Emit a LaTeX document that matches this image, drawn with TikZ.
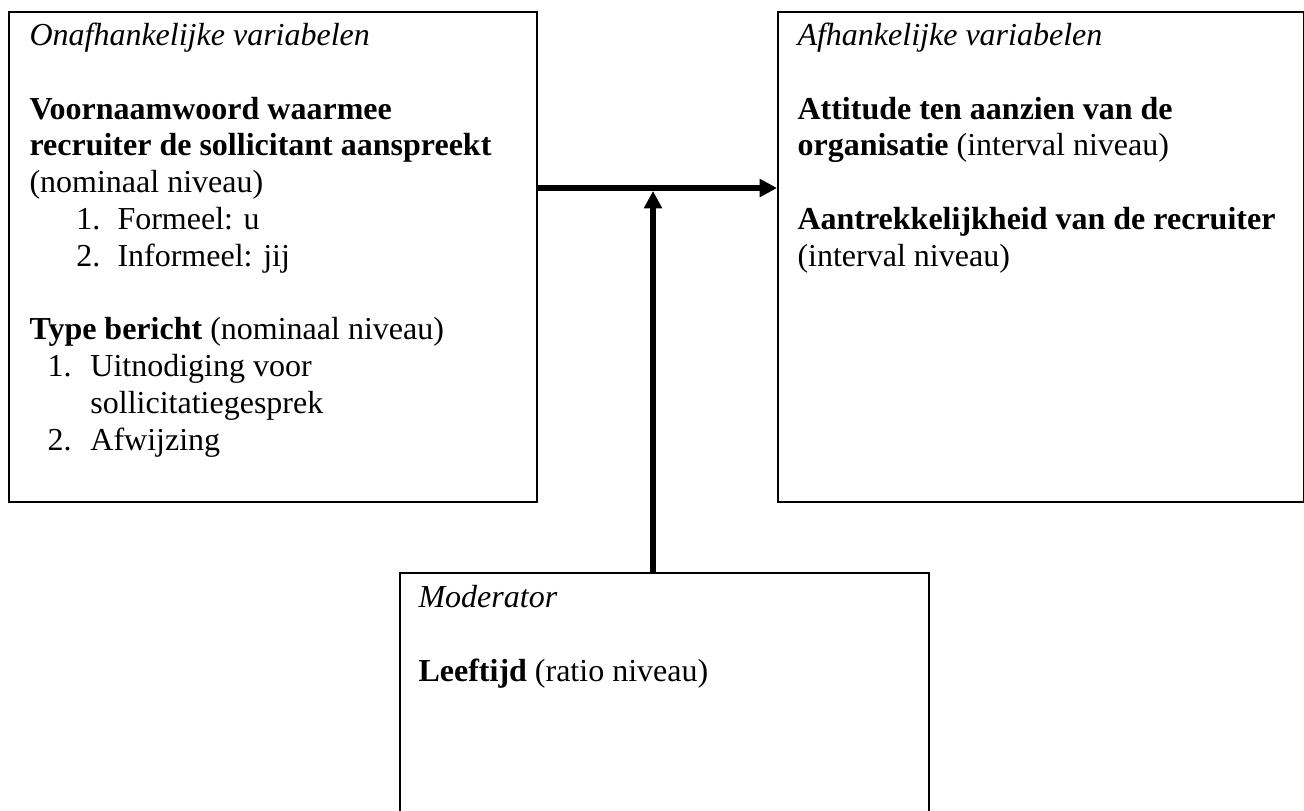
\documentclass[tikz,border=0pt]{standalone}
\usepackage{fontspec}
\setmainfont{Liberation Serif}
\usetikzlibrary{arrows.meta,positioning}
\tikzset{
  varbox/.style={
    draw=black,
    line width=0.75pt,
    rectangle,
    inner sep=0pt,
    anchor=north west
  },
  boxtext/.style={
    align=left,
    inner sep=0pt,
    anchor=north west,
    font=\fontsize{12}{13.8}\selectfont
  },
  linkarrow/.style={
    -{Triangle[length=6.5pt,width=6.5pt]},
    line width=2.25pt
  }
}
\newcommand{\listnum}[3]{\hspace*{#1}\makebox[#2][l]{#3}}

\begin{document}
\begin{tikzpicture}[x=0.375pt, y=-0.375pt]
  \path[use as bounding box, clip] (0,0) rectangle (1304,810);
  % the three boxes
  \node[varbox, minimum width=198pt, minimum height=183.75pt] (onafh) at (8,11) {};
  \node[varbox, minimum width=197.25pt, minimum height=183.75pt] (afh) at (777,11) {};
  \node[varbox, minimum width=198.4pt, minimum height=97pt] (mod) at (399,572) {};
  % their texts
  \node[boxtext] (onafhtxt) at (29,19.2) {\strut\textit{Onafhankelijke variabelen}\\[13.8pt]
    \textbf{Voornaamwoord waarmee}\\
    \textbf{recruiter de sollicitant aanspreekt}\\
    (nominaal niveau)\\
    \listnum{17.6pt}{15.4pt}{1.}Formeel: u\\
    \listnum{17.6pt}{15.4pt}{2.}Informeel: jij\\[13.8pt]
    \textbf{Type bericht} (nominaal niveau)\\
    \listnum{6.75pt}{16.1pt}{1.}Uitnodiging voor\\
    \listnum{6.75pt}{16.1pt}{}sollicitatiegesprek\\
    \listnum{6.75pt}{16.1pt}{2.}Afwijzing};
  \node[boxtext] (afhtxt) at (797,19.2) {\strut\textit{Afhankelijke variabelen}\\[13.8pt]
    \textbf{Attitude ten aanzien van de}\\
    \textbf{organisatie} (interval niveau)\\[13.8pt]
    \textbf{Aantrekkelijkheid van de recruiter}\\
    (interval niveau)};
  \node[boxtext] (modtxt) at (418,581.2) {\strut\textit{Moderator}\\[13.8pt]
    \textbf{Leeftijd} (ratio niveau)};
  % arrows
  \coordinate (junc) at (653,188);
  \draw[linkarrow] (onafh.east |- junc) -- (afh.west |- junc);
  \draw[linkarrow, shorten >=1.1pt] (mod.north -| junc) -- (junc);
\end{tikzpicture}
\end{document}
